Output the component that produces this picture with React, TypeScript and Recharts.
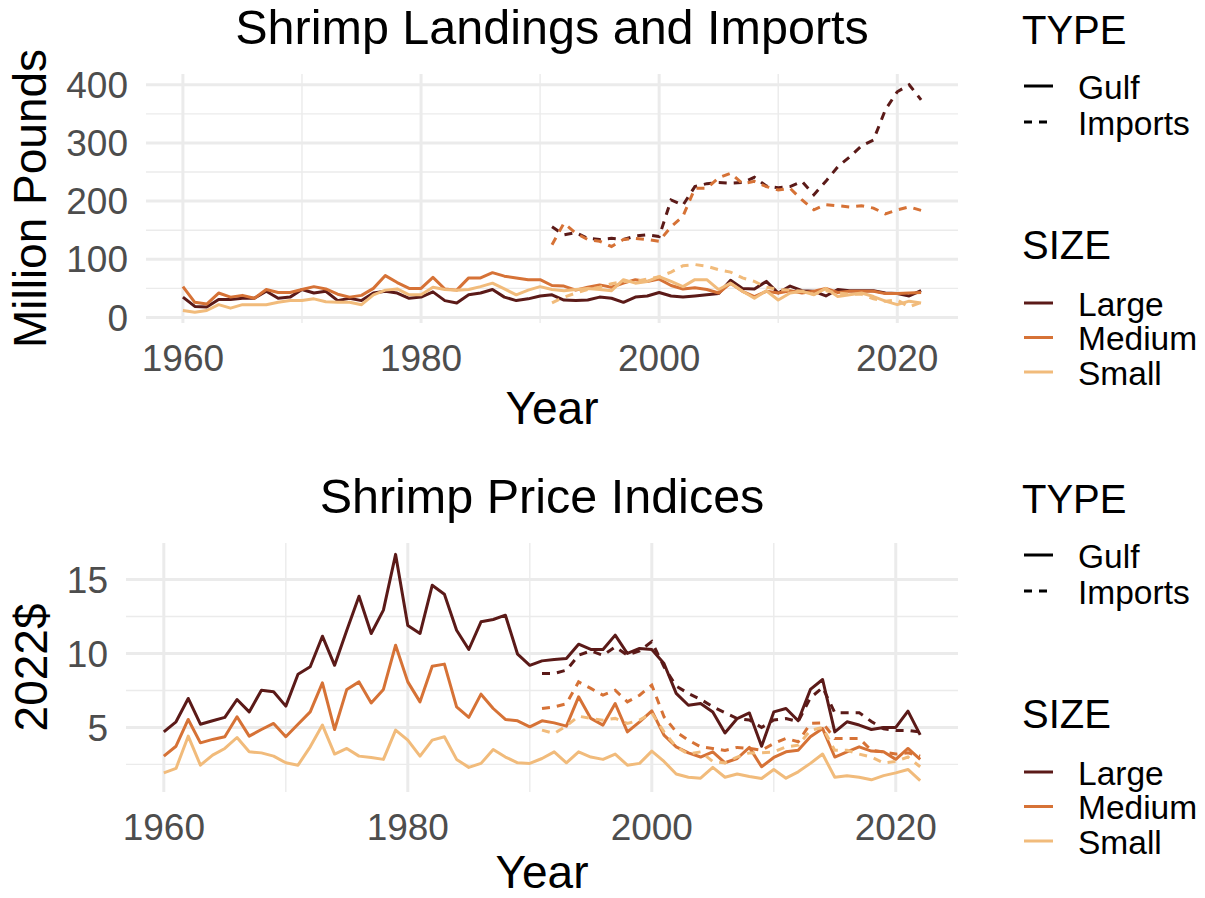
import React from 'react';
import { LineChart, Line, XAxis, YAxis, ReferenceLine } from 'recharts';

// ---------- categories ----------
const years = [
  1960, 1961, 1962, 1963, 1964, 1965, 1966, 1967, 1968, 1969,
  1970, 1971, 1972, 1973, 1974, 1975, 1976, 1977, 1978, 1979,
  1980, 1981, 1982, 1983, 1984, 1985, 1986, 1987, 1988, 1989,
  1990, 1991, 1992, 1993, 1994, 1995, 1996, 1997, 1998, 1999,
  2000, 2001, 2002, 2003, 2004, 2005, 2006, 2007, 2008, 2009,
  2010, 2011, 2012, 2013, 2014, 2015, 2016, 2017, 2018, 2019,
  2020, 2021, 2022,
];
const importYears = [
  1991, 1992, 1993, 1994, 1995, 1996, 1997, 1998, 1999,
  2000, 2001, 2002, 2003, 2004, 2005, 2006, 2007, 2008, 2009,
  2010, 2011, 2012, 2013, 2014, 2015, 2016, 2017, 2018, 2019,
  2020, 2021, 2022,
];

// ---------- landings (million pounds) ----------
const landGulfLarge = [
  35, 19, 18, 31, 31, 33, 33, 45, 33, 35,
  48, 42, 45, 29, 33, 29, 42, 45, 42, 33,
  35, 44, 29, 25, 39, 42, 48, 35, 29, 32,
  37, 39, 30, 29, 30, 35, 33, 26, 35, 37,
  43, 37, 35, 37, 39, 41, 64, 50, 49, 62,
  42, 54, 46, 45, 37, 48, 46, 46, 46, 42,
  41, 37, 46,
];
const landGulfMedium = [
  53, 26, 23, 42, 35, 38, 33, 48, 43, 43,
  48, 53, 49, 40, 35, 38, 50, 72, 60, 50,
  50, 69, 49, 47, 68, 68, 77, 71, 68, 65,
  65, 55, 54, 47, 52, 56, 52, 59, 65, 62,
  66, 55, 49, 51, 48, 42, 59, 45, 36, 45,
  42, 46, 42, 45, 50, 43, 45, 45, 45, 41,
  41, 42, 43,
];
const landGulfSmall = [
  12, 9, 12, 22, 16, 22, 22, 22, 26, 29,
  29, 32, 27, 26, 26, 22, 39, 47, 49, 39,
  39, 52, 48, 47, 48, 53, 59, 49, 39, 47,
  53, 48, 46, 48, 50, 48, 46, 65, 59, 62,
  70, 62, 53, 65, 65, 48, 59, 45, 33, 46,
  30, 42, 45, 39, 50, 36, 39, 42, 36, 28,
  22, 28, 25,
];
const landImpLarge = [
  156, 142, 146, 136, 134, 136, 134, 140, 142,
  139, 202, 193, 225, 230, 232, 231, 232, 241, 226,
  223, 225, 234, 211, 234, 259, 276, 295, 305, 357,
  388, 400, 374,
];
const landImpMedium = [
  125, 162, 145, 134, 131, 122, 134, 136, 134,
  131, 156, 174, 222, 222, 240, 248, 230, 234, 225,
  219, 222, 202, 185, 194, 192, 190, 192, 188, 178,
  185, 190, 184,
];
const landImpSmall = [
  25, 35, 42, 48, 52, 58, 62, 62, 66,
  70, 78, 89, 91, 88, 82, 78, 68, 62, 52,
  48, 47, 45, 40, 46, 42, 40, 40, 32, 28,
  30, 18, 26,
];

// ---------- price indices (2022$) ----------
const priceGulfLarge = [
  4.7, 5.38, 6.96, 5.22, 5.45, 5.68, 6.89, 6.05, 7.52, 7.41,
  6.44, 8.6, 9.1, 11.17, 9.2, 11.57, 13.87, 11.35, 12.93, 16.7,
  11.9, 11.35, 14.61, 14.0, 11.57, 10.27, 12.14, 12.3, 12.59, 9.95,
  9.2, 9.5, 9.59, 9.66, 10.63, 10.27, 10.27, 11.24, 10.0, 10.34,
  10.27, 9.32, 7.3, 6.5, 6.62, 6.05, 4.63, 5.6, 5.98, 3.73,
  6.05, 6.28, 5.45, 7.57, 8.24, 4.7, 5.38, 5.16, 4.86, 5.0,
  5.0, 6.1, 4.5,
];
const priceGulfMedium = [
  3.06, 3.73, 5.54, 3.96, 4.19, 4.37, 5.72, 4.41, 4.86, 5.27,
  4.37, 5.22, 6.05, 8.01, 4.86, 7.57, 8.08, 6.66, 7.57, 10.56,
  8.08, 6.73, 9.14, 9.28, 6.39, 5.68, 7.25, 6.28, 5.54, 5.45,
  5.04, 5.45, 5.31, 5.09, 7.07, 5.61, 5.16, 6.62, 4.7, 5.38,
  6.12, 4.48, 3.69, 3.28, 3.0, 3.35, 2.61, 2.9, 3.65, 2.34,
  2.97, 3.35, 3.45, 4.37, 4.93, 3.0, 3.35, 3.69, 3.4, 3.35,
  2.84, 3.58, 2.84,
];
const priceGulfSmall = [
  1.93, 2.23, 4.41, 2.45, 3.13, 3.58, 4.32, 3.35, 3.28, 3.06,
  2.61, 2.45, 3.69, 5.16, 3.2, 3.58, 3.06, 2.97, 2.84, 4.82,
  4.14, 3.06, 4.14, 4.37, 2.84, 2.3, 2.57, 3.51, 3.0, 2.61,
  2.57, 2.9, 3.35, 2.61, 3.35, 3.0, 2.84, 3.2, 2.45, 2.57,
  3.4, 2.7, 1.85, 1.63, 1.57, 2.3, 1.63, 1.85, 1.68, 1.55,
  2.16, 1.57, 2.0, 2.57, 3.2, 1.63, 1.74, 1.63, 1.46, 1.74,
  1.93, 2.16, 1.4,
];
const priceImpLarge = [
  8.65, 8.65, 8.87, 9.88, 10.18, 9.88, 10.45, 9.88, 10.18,
  10.8, 9.1, 7.8, 7.3, 6.9, 6.4, 6.0, 5.6, 5.5, 5.0,
  5.5, 5.6, 5.4, 7.0, 7.7, 6.0, 6.0, 6.0, 5.4, 4.9,
  4.8, 4.8, 4.7,
];
const priceImpMedium = [
  6.28, 6.39, 6.6, 8.08, 7.64, 7.18, 7.52, 6.73, 7.18,
  7.86, 5.72, 4.7, 4.14, 3.69, 3.58, 3.45, 3.65, 3.58, 3.45,
  3.92, 4.26, 4.03, 5.27, 5.31, 4.26, 4.26, 4.26, 3.45, 3.35,
  3.2, 3.28, 3.06,
];
const priceImpSmall = [
  4.82, 4.59, 5.1, 5.76, 5.61, 5.49, 5.61, 5.27, 5.5,
  5.98, 4.7, 3.69, 3.2, 3.35, 2.7, 2.6, 3.0, 3.28, 3.28,
  3.35, 3.69, 3.8, 4.8, 5.0, 3.45, 3.45, 3.2, 3.0, 2.6,
  2.7, 3.0, 2.34,
];

// ---------- tick labels ----------
const xTicks = [1960, 1980, 2000, 2020];
const xMinor = [1970, 1990, 2010];
const landTicks = [0, 100, 200, 300, 400];
const landMinor = [50, 150, 250, 350];
const priceTicks = [5, 10, 15];
const priceMinor = [2.5, 7.5, 12.5];

const FONT = '"Liberation Sans", Arial, Helvetica, sans-serif';
const COLORS = { Large: '#5B1A18', Medium: '#D67236', Small: '#F1BB7B' };
const W = 1205;
const PLOT_RIGHT = 958;
const LW = 3;
const DASH = '8 7';
const GRID = '#EBEBEB';

function buildRows(gL: number[], gM: number[], gS: number[], iL: number[], iM: number[], iS: number[]) {
  return years.map((year, i) => {
    const j = importYears.indexOf(year);
    return {
      year,
      gL: gL[i], gM: gM[i], gS: gS[i],
      iL: j >= 0 ? iL[j] : null,
      iM: j >= 0 ? iM[j] : null,
      iS: j >= 0 ? iS[j] : null,
    };
  });
}

const landRows = buildRows(landGulfLarge, landGulfMedium, landGulfSmall, landImpLarge, landImpMedium, landImpSmall);
const priceRows = buildRows(priceGulfLarge, priceGulfMedium, priceGulfSmall, priceImpLarge, priceImpMedium, priceImpSmall);

type PanelProps = {
  top: number; height: number; plotTop: number; plotBottom: number; plotLeft: number;
  rows: any[]; yDomain: [number, number]; yTicks: number[]; yMinor: number[];
};

function Panel({ top, height, plotTop, plotBottom, plotLeft, rows, yDomain, yTicks, yMinor }: PanelProps) {
  const tickStyle = { fill: '#4D4D4D', fontSize: 37, fontFamily: FONT };
  return (
    <div style={{ position: 'absolute', left: 0, top, width: W, height }}>
      <LineChart width={W} height={height} data={rows}
        margin={{ top: plotTop, right: W - PLOT_RIGHT, bottom: 0, left: 0 }}>
        {xMinor.map((v) => (
          <ReferenceLine key={'xm' + v} x={v} stroke={GRID} strokeWidth={1.4} />
        ))}
        {yMinor.map((v) => (
          <ReferenceLine key={'ym' + v} y={v} stroke={GRID} strokeWidth={1.4} />
        ))}
        {xTicks.map((v) => (
          <ReferenceLine key={'xM' + v} x={v} stroke={GRID} strokeWidth={3} />
        ))}
        {yTicks.map((v) => (
          <ReferenceLine key={'yM' + v} y={v} stroke={GRID} strokeWidth={3} />
        ))}
        <XAxis dataKey="year" type="number" domain={[1956.9, 2025.1]} ticks={xTicks}
          allowDataOverflow interval={0} axisLine={false} tickLine={false}
          tickMargin={16} height={height - plotBottom} tick={tickStyle} />
        <YAxis type="number" domain={yDomain} ticks={yTicks} allowDataOverflow interval={0}
          axisLine={false} tickLine={false} tickMargin={12} width={plotLeft} tick={tickStyle} />
        <Line dataKey="gL" stroke={COLORS.Large} strokeWidth={LW} dot={false} activeDot={false} isAnimationActive={false} strokeLinejoin="round" />
        <Line dataKey="iL" stroke={COLORS.Large} strokeWidth={LW} strokeDasharray={DASH} dot={false} activeDot={false} isAnimationActive={false} />
        <Line dataKey="gM" stroke={COLORS.Medium} strokeWidth={LW} dot={false} activeDot={false} isAnimationActive={false} strokeLinejoin="round" />
        <Line dataKey="iM" stroke={COLORS.Medium} strokeWidth={LW} strokeDasharray={DASH} dot={false} activeDot={false} isAnimationActive={false} />
        <Line dataKey="gS" stroke={COLORS.Small} strokeWidth={LW} dot={false} activeDot={false} isAnimationActive={false} strokeLinejoin="round" />
        <Line dataKey="iS" stroke={COLORS.Small} strokeWidth={LW} strokeDasharray={DASH} dot={false} activeDot={false} isAnimationActive={false} />
      </LineChart>
    </div>
  );
}

function LegendBlock({ dy }: { dy: number }) {
  const lx1 = 1024, lx2 = 1053, tx = 1078;
  const sizes: [string, string, number][] = [
    ['Large', COLORS.Large, 303],
    ['Medium', COLORS.Medium, 337.5],
    ['Small', COLORS.Small, 372],
  ];
  return (
    <g>
      <text x={1022} y={43.5 + dy} fontSize={40}>TYPE</text>
      <line x1={lx1} x2={lx2} y1={86 + dy} y2={86 + dy} stroke="#000" strokeWidth={LW} />
      <text x={tx} y={98.5 + dy} fontSize={33.5}>Gulf</text>
      <line x1={lx1} x2={lx2} y1={122 + dy} y2={122 + dy} stroke="#000" strokeWidth={LW} strokeDasharray={DASH} />
      <text x={tx} y={134.5 + dy} fontSize={33.5}>Imports</text>
      <text x={1022} y={258.5 + dy} fontSize={40}>SIZE</text>
      {sizes.map(([label, color, ky]) => (
        <g key={label}>
          <line x1={lx1} x2={lx2} y1={ky + dy} y2={ky + dy} stroke={color} strokeWidth={LW} />
          <text x={tx} y={ky + 12.5 + dy} fontSize={33.5}>{label}</text>
        </g>
      ))}
    </g>
  );
}

export default function App() {
  return (
    <div style={{ position: 'relative', width: W, height: 898, background: '#fff', fontFamily: FONT }}>
      <style>{'body{margin:0;background:#fff}'}</style>
      <Panel top={0} height={450} plotTop={74} plotBottom={323} plotLeft={146}
        rows={landRows} yDomain={[-9.5, 418.5]} yTicks={landTicks} yMinor={landMinor} />
      <Panel top={450} height={448} plotTop={93} plotBottom={342} plotLeft={126}
        rows={priceRows} yDomain={[0.635, 17.47]} yTicks={priceTicks} yMinor={priceMinor} />
      <svg width={W} height={898} style={{ position: 'absolute', left: 0, top: 0, pointerEvents: 'none' }}
        fontFamily={FONT} fill="#000">
        <text x={552} y={44} fontSize={48.5} textAnchor="middle">Shrimp Landings and Imports</text>
        <text x={542} y={513} fontSize={48.5} textAnchor="middle">Shrimp Price Indices</text>
        <text x={552} y={424} fontSize={46} textAnchor="middle">Year</text>
        <text x={542} y={888} fontSize={46} textAnchor="middle">Year</text>
        <text transform="translate(46,198.5) rotate(-90)" fontSize={46} textAnchor="middle">Million Pounds</text>
        <text transform="translate(47,667.5) rotate(-90)" fontSize={46} textAnchor="middle">2022$</text>
        <LegendBlock dy={0} />
        <LegendBlock dy={469} />
      </svg>
    </div>
  );
}
